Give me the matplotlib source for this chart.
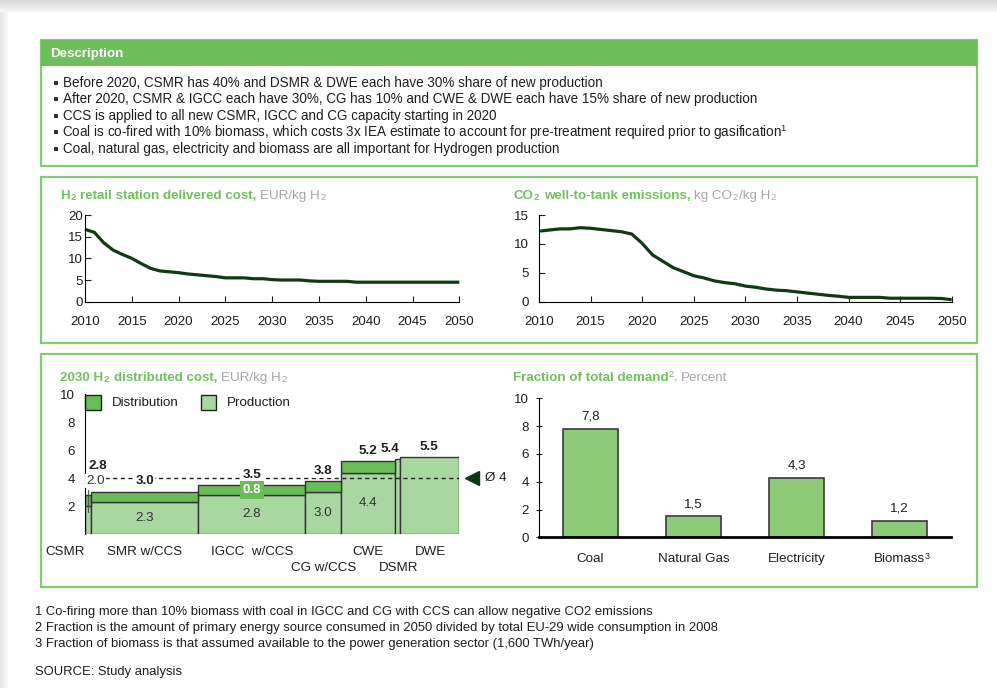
import numpy as np
import matplotlib.pyplot as plt
from matplotlib.patches import Rectangle

plt.rcParams['font.family'] = ['Liberation Sans', 'DejaVu Sans']
plt.rcParams['mathtext.fontset'] = 'custom'
plt.rcParams['mathtext.rm'] = 'Liberation Sans'
plt.rcParams['mathtext.bf'] = 'Liberation Sans:bold'
plt.rcParams['mathtext.it'] = 'Liberation Sans:italic'

W, H = 997, 688
FS = 9.6

HEAD = '#6cbf5b'
FRAME = '#80cc70'
TITLE = '#6ec15d'
UNIT = '#a6a6a6'
INK = '#1e1e1e'
CURVE = '#0f3b14'
DIST = '#68bd57'
PROD = '#a8d8a0'
DEMAND = '#8dcb79'
EDGE = '#333333'

# yearly series 2010-2050
years = np.arange(2010, 2051)
retail_cost = [16.7, 16.0, 13.6, 11.9, 10.9, 10.0, 8.8, 7.7, 7.1, 6.9,
               6.7, 6.4, 6.2, 6.0, 5.8, 5.5, 5.5, 5.5, 5.3, 5.3,
               5.1, 5.0, 5.0, 5.0, 4.8, 4.7, 4.7, 4.7, 4.7, 4.5,
               4.5, 4.5, 4.5, 4.5, 4.5, 4.5, 4.5, 4.5, 4.5, 4.5, 4.5]
co2_wtt = [12.2, 12.4, 12.6, 12.6, 12.8, 12.7, 12.5, 12.3, 12.1, 11.7,
           10.1, 8.1, 7.0, 5.9, 5.2, 4.5, 4.1, 3.6, 3.3, 3.1,
           2.7, 2.5, 2.2, 2.0, 1.9, 1.7, 1.5, 1.3, 1.1, 0.95,
           0.75, 0.75, 0.75, 0.75, 0.6, 0.6, 0.6, 0.6, 0.6, 0.55, 0.35]

# 2030 distributed cost by route, bar width = share of capacity (%)
tech = ["CSMR", "SMR w/CCS", "IGCC  w/CCS", "CG w/CCS", "CWE", "DSMR", "DWE"]
tech_share = [1.7, 28.6, 28.6, 9.6, 14.4, 1.2, 15.9]
production = [2.0, 2.3, 2.8, 3.0, 4.4, 5.4, 5.5]
total_cost = [2.8, 3.0, 3.5, 3.8, 5.2, 5.4, 5.5]
distribution_label = "0.8"
avg_cost = 4.0

sources = ["Coal", "Natural Gas", "Electricity", "Biomass"]
source_note = {"Biomass": "3"}
demand = [7.8, 1.5, 4.3, 1.2]

bullets = [
    "Before 2020, CSMR has 40% and DSMR & DWE each have 30% share of new production",
    "After 2020, CSMR & IGCC each have 30%, CG has 10% and CWE & DWE each have 15% share of new production",
    "CCS is applied to all new CSMR, IGCC and CG capacity starting in 2020",
    "Coal is co-fired with 10% biomass, which costs 3x IEA estimate to account for "
    "pre-treatment required prior to gasification$^\\mathrm{1}$",
    "Coal, natural gas, electricity and biomass are all important for Hydrogen production",
]
notes = [
    "1 Co-firing more than 10% biomass with coal in IGCC and CG with CCS can allow negative CO2 emissions",
    "2 Fraction is the amount of primary energy source consumed in 2050 divided by total EU-29 wide consumption in 2008",
    "3 Fraction of biomass is that assumed available to the power generation sector (1,600 TWh/year)",
    "SOURCE: Study analysis",
]

fig = plt.figure(figsize=(W / 100, H / 100), dpi=100)
bg = fig.add_axes([0, 0, 1, 1])
renderer = fig.canvas.get_renderer()

# page shadow along the top and left edges
yy, xx = np.mgrid[0:H, 0:W]
shade = np.ones((H, W))
top = yy < 12
shade[top] = 0.85 + 0.12 * yy[top] / 12
left = (xx < 8) & ~top
shade[left] = 0.9 + 0.08 * xx[left] / 8
rgb = np.dstack([shade - 0.02 * (1 - shade), shade, shade - 0.005 * (1 - shade)])
bg.imshow(np.clip(rgb, 0, 1), extent=(0, W, H, 0), aspect='auto', zorder=0)
bg.set_xlim(0, W)
bg.set_ylim(H, 0)
bg.axis('off')


def rich(x, y, parts):
    for s, kw in parts:
        kw = dict(kw)
        gap = kw.pop('gap', 0)
        t = bg.text(x, y, s, va='baseline', ha='left', fontsize=kw.pop('size', FS), **kw)
        x += t.get_window_extent(renderer).width + gap


def panel(x0, y0, x1, y1):
    ax = fig.add_axes([x0 / W, 1 - y1 / H, (x1 - x0) / W, (y1 - y0) / H])
    ax.patch.set_visible(False)
    for side in ('top', 'right'):
        ax.spines[side].set_visible(False)
    return ax


SP = 3.7
bold_t = dict(color=TITLE, weight='bold')
unit_t = dict(color=UNIT)

# frames
for y0, y1 in [(40, 166), (177, 343), (354, 587)]:
    bg.add_patch(Rectangle((41, y0), 936, y1 - y0, fill=False, ec=FRAME, lw=1.6, zorder=2))
bg.add_patch(Rectangle((41, 40), 936, 26, fc=HEAD, ec='none', zorder=3))
bg.text(50, 54.5, "Description", color='white', weight='bold', fontsize=FS, va='center', zorder=4)

for i, line in enumerate(bullets):
    yb = 87 + 16.5 * i
    bg.add_patch(Rectangle((53.5, yb - 6.5), 4, 4, fc='#333333', ec='none', zorder=3))
    # mathtext lines carry a small left bearing of their own
    x_text = 62 if '$' in line else 63
    bg.text(x_text, yb, line, fontsize=9.75, color=INK, va='baseline')

# line charts
rich(60, 199, [("H", bold_t), ("$_\\mathbf{2}$", dict(bold_t, gap=SP)),
               ("retail station delivered cost,", dict(bold_t, gap=SP)),
               ("EUR/kg H", unit_t), ("$_\\mathrm{2}$", unit_t)])
rich(513, 199, [("CO", bold_t), ("$_\\mathbf{2}$", dict(bold_t, gap=SP)),
                ("well-to-tank emissions,", dict(bold_t, gap=SP)),
                ("kg CO", unit_t), ("$_\\mathrm{2}$", unit_t), ("/kg H", unit_t),
                ("$_\\mathrm{2}$", unit_t)])

for box, series, ymax, ypad in [((85, 215, 459.3, 301.7), retail_cost, 20, 1.5),
                                 ((539, 215, 951.7, 301.7), co2_wtt, 15, 7)]:
    ax = panel(*box)
    ax.plot(years, series, color=CURVE, lw=2.3, solid_capstyle='butt', clip_on=False)
    ax.set_xlim(2010, 2050)
    ax.set_ylim(0, ymax)
    ax.set_xticks(range(2010, 2051, 5))
    ax.set_yticks(range(0, ymax + 1, 5))
    ax.tick_params(direction='in', length=4, labelsize=FS, colors=INK)
    ax.tick_params(axis='x', pad=10)
    ax.tick_params(axis='y', pad=ypad)

# 2030 distributed cost
rich(60, 381, [("2030 H", bold_t), ("$_\\mathbf{2}$", dict(bold_t, gap=SP)),
               ("distributed cost,", dict(bold_t, gap=SP)),
               ("EUR/kg H", unit_t), ("$_\\mathrm{2}$", unit_t)])

mk = panel(85, 394.3, 459, 534)
mk.spines['bottom'].set_visible(False)
lefts = np.concatenate([[0], np.cumsum(tech_share)[:-1]])
centers = lefts + np.array(tech_share) / 2
dist = np.array(total_cost) - np.array(production)
mk.bar(lefts, production, width=tech_share, align='edge', color=PROD, ec=EDGE, lw=1, zorder=2)
has_dist = dist > 0
mk.bar(lefts[has_dist], dist[has_dist], bottom=np.array(production)[has_dist],
       width=np.array(tech_share)[has_dist], align='edge', color=DIST, ec=EDGE, lw=1, zorder=2)
mk.set_xlim(0, 100)
mk.set_ylim(0, 10)
mk.set_xticks([])
mk.set_yticks([2, 4, 6, 8, 10])
mk.tick_params(axis='y', length=0, pad=7.5, labelsize=FS, colors=INK)

mk.plot([5.3, 100], [avg_cost, avg_cost], color='#222222', lw=1, ls=(0, (3, 2.5)), zorder=4)
mk.plot([103.4], [avg_cost], marker='<', ms=10, color='#0c3a10', clip_on=False)
mk.text(107, avg_cost, "Ø 4", fontsize=FS, color=INK, va='center', clip_on=False)

# leader for the narrow CSMR column
mk.plot([centers[0], centers[0]], [1.6, 3.15], color='#555555', lw=0.8, zorder=3)

total_offset = [(9.5, 29), (0, 11), (0, 10.5), (0, 10), (0, 10.5), (-7, 10), (0, 10.5)]
for i, v in enumerate(total_cost):
    dx, dy = total_offset[i]
    mk.annotate(f"{v:.1f}", (centers[i], v), xytext=(dx, dy), textcoords='offset pixels',
                ha='center', va='center', fontsize=FS, weight='bold', color=INK,
                bbox=dict(boxstyle='square,pad=0.1', fc='white', ec='none'), zorder=5)
for i in range(1, 5):
    mk.text(centers[i], production[i] / 2, f"{production[i]:.1f}", ha='center', va='center',
            fontsize=FS, color='#333333', zorder=5)
mk.annotate(f"{production[0]:.1f}", (centers[0], total_cost[0]), xytext=(7, 14),
            textcoords='offset pixels', ha='center', va='center', fontsize=FS, color='#333333',
            bbox=dict(boxstyle='square,pad=0.1', fc='white', ec='none'), zorder=5)
mk.text(centers[2], (production[2] + total_cost[2]) / 2, distribution_label, ha='center',
        va='center', fontsize=FS, weight='bold', color='white', zorder=5,
        bbox=dict(boxstyle='square,pad=0.2', fc=DIST, ec='none'))

name_offset = [(-23, -18), (0, -18), (0, -18), (0, -34), (0, -18), (1, -34), (1, -18)]
for i, name in enumerate(tech):
    dx, dy = name_offset[i]
    mk.annotate(name, (centers[i], 0), xytext=(dx, dy), textcoords='offset pixels',
                ha='center', va='center', fontsize=FS, color=INK, annotation_clip=False)

# legend
bg.add_patch(Rectangle((85.3, 395), 15.3, 15, fc=DIST, ec='#222222', lw=1, zorder=5))
bg.text(111.7, 403, "Distribution", fontsize=FS, color=INK, va='center')
bg.add_patch(Rectangle((201, 395), 15.3, 15, fc=PROD, ec='#222222', lw=1, zorder=5))
bg.text(227, 403, "Production", fontsize=FS, color=INK, va='center')

# fraction of total demand
rich(513, 381, [("Fraction of total demand", dict(bold_t, gap=-1)), ("$^\\mathrm{2}$", dict(bold_t, gap=-1)),
                (",", dict(unit_t, gap=SP)), ("Percent", unit_t)])

bx = panel(539, 398.3, 951, 537.3)
pos = np.arange(len(sources)) + 0.5
bx.bar(pos, demand, width=0.535, color=DEMAND, ec='#3a3a3a', lw=1.2, zorder=2)
for p, v in zip(pos, demand):
    bx.annotate(f"{v:.1f}".replace('.', ','), (p, v), xytext=(0, 12), textcoords='offset pixels',
                ha='center', va='center', fontsize=FS, color=INK)
bx.set_xlim(0, 4)
bx.set_ylim(0, 10)
bx.set_xticks(pos)
bx.set_xticklabels(sources)
bx.set_yticks(range(0, 11, 2))
bx.spines['bottom'].set_linewidth(2)
bx.tick_params(axis='x', length=0, pad=11, labelsize=FS, colors=INK)
bx.tick_params(axis='y', direction='inout', length=5, pad=5, labelsize=FS, colors=INK)

# footnote marks on category labels
fig.canvas.draw()
for lab in bx.get_xticklabels():
    mark = source_note.get(lab.get_text())
    if mark:
        ext = lab.get_window_extent(renderer)
        bg.text(ext.x1 - 0.5, H - ext.y1 - 1, mark, fontsize=6.5, color=INK, va='top', ha='left')

for i, line in enumerate(notes):
    bg.text(35, [612, 628, 644, 672][i], line, fontsize=9.35, color=INK, va='center')

fig.savefig("out.png", dpi=100)
